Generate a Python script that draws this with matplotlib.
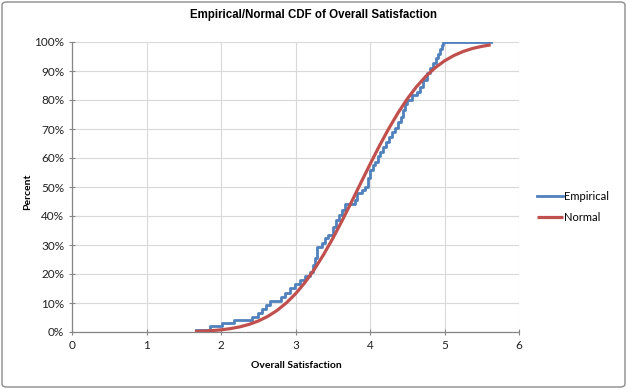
import matplotlib
matplotlib.use("Agg")
import matplotlib.pyplot as plt
from matplotlib.patches import FancyBboxPatch
from matplotlib.ticker import FuncFormatter

# Empirical CDF (step points): x value, cumulative percent
emp_x = [1.67, 1.85, 2.02, 2.18, 2.41, 2.50, 2.55, 2.60, 2.66, 2.80, 2.86, 2.92,
         2.99, 3.06, 3.13, 3.19, 3.23, 3.26, 3.29, 3.35, 3.39, 3.44, 3.50, 3.55,
         3.59, 3.62, 3.66, 3.80, 3.83, 3.89, 3.93, 3.97, 4.00, 4.04, 4.07, 4.11,
         4.14, 4.18, 4.21, 4.25, 4.30, 4.34, 4.38, 4.41, 4.44, 4.47, 4.50, 4.56,
         4.63, 4.67, 4.71, 4.76, 4.80, 4.84, 4.88, 4.91, 4.94, 4.96, 4.98, 5.63]
emp_pct = [0.8, 2.0, 3.1, 4.1, 5.1, 6.5, 7.8, 9.2, 10.8, 12.2, 13.6, 15.2,
           16.7, 18.1, 19.3, 20.8, 23.0, 25.5, 29.4, 30.6, 32.4, 33.6, 36.3, 38.6,
           40.3, 42.0, 44.0, 45.5, 47.9, 49.0, 50.1, 53.0, 55.9, 57.6, 58.7, 60.7,
           62.0, 63.9, 65.6, 67.3, 69.0, 70.5, 72.5, 74.0, 76.5, 78.5, 80.0, 81.7,
           82.9, 84.6, 86.9, 89.3, 91.0, 92.8, 94.5, 96.0, 97.5, 99.0, 100.0, 100.0]

# Normal CDF curve
norm_x = [1.65, 1.75, 1.875, 2.0, 2.125, 2.25, 2.375, 2.5, 2.625, 2.75, 2.875,
          3.0, 3.125, 3.25, 3.375, 3.5, 3.625, 3.75, 3.875, 4.0, 4.125, 4.25,
          4.375, 4.5, 4.625, 4.75, 4.875, 5.0, 5.125, 5.25, 5.375, 5.5, 5.62]
norm_pct = [0.19, 0.29, 0.47, 0.75, 1.16, 1.76, 2.61, 3.79, 5.35, 7.39, 9.98,
            13.17, 17.00, 21.50, 26.60, 32.25, 38.36, 44.76, 51.32, 57.82, 64.13, 70.06,
            75.51, 80.38, 84.61, 88.18, 91.13, 93.49, 95.33, 96.73, 97.76, 98.50, 99.01]

x_ticks = [0, 1, 2, 3, 4, 5, 6]
y_ticks = [0, 10, 20, 30, 40, 50, 60, 70, 80, 90, 100]

title = "Empirical/Normal CDF of Overall Satisfaction"
xlabel = "Overall Satisfaction"
ylabel = "Percent"

W, H = 627, 389
fig = plt.figure(figsize=(W / 100, H / 100), dpi=100)
fig.patch.set_facecolor("white")

border = FancyBboxPatch((2 / W, 2 / H), 1 - 4 / W, 1 - 4 / H,
                        boxstyle="round,pad=0,rounding_size=0.008",
                        transform=fig.transFigure, facecolor="none",
                        edgecolor="#8c8c8c", linewidth=1.0, zorder=-1)
fig.patches.append(border)

ax = fig.add_axes([72 / W, (H - 332) / H, (519 - 72) / W, (332 - 42) / H])
ax.set_facecolor("none")

tick_font = ["Lato", "DejaVu Sans"]

ax.plot(emp_x, emp_pct, drawstyle="steps-post", color="#4F81BD",
        linewidth=2.0, label="Empirical", zorder=3)
ax.plot(norm_x, norm_pct, color="#C0504D", linewidth=2.3,
        label="Normal", zorder=4, solid_capstyle="butt")

ax.set_xlim(0, 6)
ax.set_ylim(0, 100)
ax.set_xticks(x_ticks)
ax.set_yticks(y_ticks)
ax.yaxis.set_major_formatter(FuncFormatter(lambda v, p: f"{int(v)}%"))
ax.grid(True, color="#d9d9d9", linewidth=0.8, zorder=0)
ax.set_axisbelow(True)

for s in ["top", "right"]:
    ax.spines[s].set_visible(False)
for s in ["left", "bottom"]:
    ax.spines[s].set_color("#868686")
    ax.spines[s].set_linewidth(0.9)

ax.tick_params(axis="both", direction="inout", length=5, width=0.8,
               color="#868686", labelsize=8.5, labelcolor="#222222", pad=3)
for lbl in ax.get_xticklabels() + ax.get_yticklabels():
    lbl.set_family(tick_font)

fig.text(314 / W, 1 - 15 / H, title, ha="center", va="center",
         fontsize=8.3, fontweight="bold",
         family=["Liberation Sans", "DejaVu Sans"])
fig.text(296 / W, 1 - 365 / H, xlabel, ha="center", va="center",
         fontsize=7.5, fontweight="bold", family=tick_font)
fig.text(28 / W, 1 - 192 / H, ylabel, ha="center", va="center",
         rotation=90, fontsize=7.5, fontweight="bold", family=tick_font)

leg = ax.legend(loc="center left", bbox_to_anchor=(535 / W, 1 - 207 / H),
                bbox_transform=fig.transFigure, frameon=False,
                prop={"family": tick_font, "size": 8}, handlelength=2.3,
                handletextpad=0.1, labelspacing=0.85, borderpad=0.2,
                borderaxespad=0)

fig.savefig("out.png", dpi=100, facecolor="white")
